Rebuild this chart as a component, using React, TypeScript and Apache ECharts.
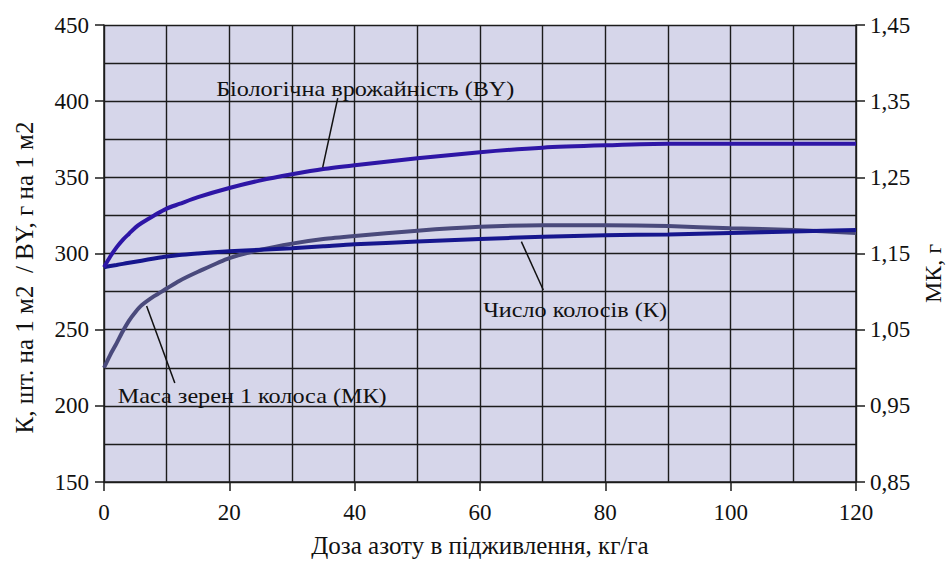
import React, { useEffect, useRef } from "react";
import * as echarts from "echarts";

const xValues = [0, 1, 2, 3, 4, 5, 6, 8, 10, 12, 15, 20, 25, 30, 35, 40, 50, 60, 70, 80, 90, 100, 110, 120];
const byValues = [291, 298, 304, 309, 313, 317, 320, 325, 329.5, 332.5, 337, 343, 348, 352, 355.5, 358, 362.5, 366.5, 369.5, 371, 372, 372, 372, 372];
const kValues = [291, 291.8, 292.5, 293.2, 293.9, 294.6, 295.3, 296.7, 298, 299, 300, 301.5, 302.5, 303.4, 304.7, 306, 307.8, 309.5, 311, 312, 312.5, 313.5, 314.5, 315.5];
const mkValues = [1.0, 1.017, 1.032, 1.048, 1.062, 1.073, 1.082, 1.094, 1.104, 1.114, 1.126, 1.144, 1.155, 1.163, 1.169, 1.173, 1.18, 1.185, 1.187, 1.187, 1.186, 1.183, 1.181, 1.177];

const xAxisName = "Доза азоту в підживлення, кг/га";
const leftAxisName = "К, шт. на 1 м2  / ВY, г на 1 м2";
const rightAxisName = "МК, г";

// annotations in data coordinates (left axis units)
const annotationTexts = ["Біологічна врожайність (BY)", "Маса зерен 1 колоса (МК)", "Число колосів (К)"];
const annotationAnchors = [
  [17.9, 408.5],
  [2.2, 207],
  [60.5, 263],
];
const leaderStarts = [
  [37.3, 402],
  [11.3, 215],
  [70.1, 276],
];
const leaderEnds = [
  [34.9, 356.5],
  [6.8, 265.5],
  [66.6, 307.8],
];

const FONT = "Liberation Serif";

export default function App() {
  const ref = useRef<HTMLDivElement>(null);
  useEffect(() => {
    if (!ref.current) return;
    const chart = echarts.init(ref.current, null, { renderer: "svg" });
    const gridColor = "#1c1c1c";
    const option: any = {
      animation: false,
      backgroundColor: "#ffffff",
      textStyle: { fontFamily: FONT },
      grid: {
        left: 104,
        right: 91,
        top: 25,
        bottom: 79,
        show: true,
        backgroundColor: "#D6D6EA",
        borderWidth: 0,
        outerBoundsMode: "none",
      },
      xAxis: {
        type: "value",
        min: 0,
        max: 120,
        interval: 20,
        name: xAxisName,
        nameLocation: "middle",
        nameGap: 51,
        nameTextStyle: { fontFamily: FONT, fontSize: 25, color: "#111" },
        axisLine: { show: true, lineStyle: { color: gridColor, width: 1.5 } },
        axisTick: { show: true, length: 9, lineStyle: { color: gridColor, width: 1.5 } },
        axisLabel: { fontFamily: FONT, fontSize: 23, color: "#111", margin: 19 },
        splitLine: { show: true, lineStyle: { color: gridColor, width: 1.4 } },
        minorTick: { show: false, splitNumber: 2 },
        minorSplitLine: { show: true, lineStyle: { color: gridColor, width: 1.4 } },
      },
      yAxis: [
        {
          type: "value",
          min: 150,
          max: 450,
          interval: 50,
          name: leftAxisName,
          nameLocation: "middle",
          nameGap: 67,
          nameTextStyle: { fontFamily: FONT, fontSize: 25, color: "#111", padding: [0, 48, 0, 0] },
          axisLine: { show: true, lineStyle: { color: gridColor, width: 1.5 } },
          axisTick: { show: true, length: 9, lineStyle: { color: gridColor, width: 1.5 } },
          axisLabel: { fontFamily: FONT, fontSize: 23, color: "#111", margin: 15 },
          splitLine: { show: true, lineStyle: { color: gridColor, width: 1.4 } },
          minorTick: { show: false, splitNumber: 2 },
          minorSplitLine: { show: true, lineStyle: { color: gridColor, width: 1.4 } },
        },
        {
          type: "value",
          min: 0.85,
          max: 1.45,
          interval: 0.1,
          position: "right",
          name: rightAxisName,
          nameLocation: "middle",
          nameGap: 65,
          nameTextStyle: { fontFamily: FONT, fontSize: 24, color: "#111", padding: [0, 40, 0, 0] },
          axisLine: { show: true, lineStyle: { color: gridColor, width: 1.5 } },
          axisTick: { show: true, length: 9, lineStyle: { color: gridColor, width: 1.5 } },
          axisLabel: {
            fontFamily: FONT,
            fontSize: 23,
            color: "#111",
            margin: 14,
            formatter: (v: number) => v.toFixed(2).replace(".", ","),
          },
          splitLine: { show: false },
        },
      ],
      series: [
        {
          name: "BY",
          type: "line",
          yAxisIndex: 0,
          data: xValues.map((x, i) => [x, byValues[i]]),
          showSymbol: false,
          smooth: 0.25,
          lineStyle: { color: "#2E16A6", width: 4 },
          z: 4,
        },
        {
          name: "K",
          type: "line",
          yAxisIndex: 0,
          data: xValues.map((x, i) => [x, kValues[i]]),
          showSymbol: false,
          smooth: 0.25,
          lineStyle: { color: "#16168E", width: 4 },
          z: 3,
        },
        {
          name: "MK",
          type: "line",
          yAxisIndex: 1,
          data: xValues.map((x, i) => [x, mkValues[i]]),
          showSymbol: false,
          smooth: 0.25,
          lineStyle: { color: "#4A4A7C", width: 4 },
          z: 2,
        },
      ],
    };
    chart.setOption(option);

    const toPx = (p: number[]) => chart.convertToPixel({ xAxisIndex: 0, yAxisIndex: 0 } as any, p) as number[];
    const graphics: any[] = [];
    annotationTexts.forEach((t, i) => {
      const a = toPx(annotationAnchors[i]);
      const s = toPx(leaderStarts[i]);
      const e = toPx(leaderEnds[i]);
      graphics.push({
        type: "line",
        shape: { x1: s[0], y1: s[1], x2: e[0], y2: e[1] },
        style: { stroke: "#111", lineWidth: 1.5 },
        z: 10,
      });
      graphics.push({
        type: "text",
        x: a[0],
        y: a[1],
        scaleX: 1.1,
        style: {
          text: t,
          font: "22px " + FONT,
          fill: "#111",
          align: "left",
          verticalAlign: "middle",
        },
        z: 11,
      });
    });
    chart.setOption({ graphic: graphics });

    return () => chart.dispose();
  }, []);
  return (
    <div
      ref={ref}
      style={{ position: "fixed", left: 0, top: 0, width: 947, height: 561 }}
    />
  );
}
